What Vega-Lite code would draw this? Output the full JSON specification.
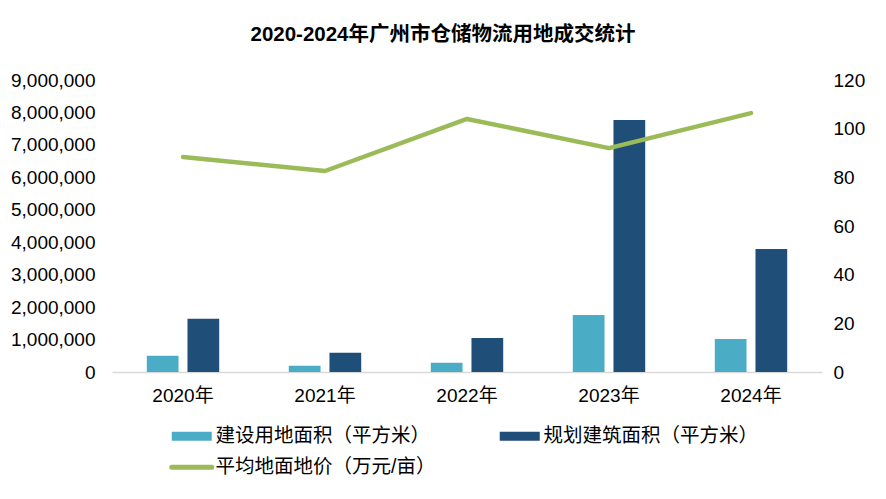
{
  "$schema": "https://vega.github.io/schema/vega-lite/v6.json",
  "width": 710,
  "height": 292,
  "autosize": "none",
  "padding": {"left": 112, "top": 80, "right": 64, "bottom": 127},
  "background": "white",
  "title": {
    "text": "2020-2024年广州市仓储物流用地成交统计",
    "fontSize": 20.5,
    "fontWeight": "bold",
    "font": "Liberation Sans, Noto Sans CJK SC",
    "color": "#000000",
    "anchor": "middle",
    "dx": -24,
    "offset": 26
  },
  "config": {
    "view": {"stroke": null},
    "font": "Liberation Sans, Noto Sans CJK SC",
    "axis": {"labelFontSize": 19, "labelColor": "#000000", "labelFont": "Liberation Sans, Noto Sans CJK SC"},
    "legend": {"labelFontSize": 19.5, "labelColor": "#000000", "labelFont": "Liberation Sans, Noto Sans CJK SC", "labelLimit": 300}
  },
  "datasets": {
    "bars": [
      {"year": "2020年", "series": "建设用地面积（平方米）", "value": 500000},
      {"year": "2020年", "series": "规划建筑面积（平方米）", "value": 1640000},
      {"year": "2021年", "series": "建设用地面积（平方米）", "value": 190000},
      {"year": "2021年", "series": "规划建筑面积（平方米）", "value": 590000},
      {"year": "2022年", "series": "建设用地面积（平方米）", "value": 285000},
      {"year": "2022年", "series": "规划建筑面积（平方米）", "value": 1050000},
      {"year": "2023年", "series": "建设用地面积（平方米）", "value": 1760000},
      {"year": "2023年", "series": "规划建筑面积（平方米）", "value": 7770000},
      {"year": "2024年", "series": "建设用地面积（平方米）", "value": 1020000},
      {"year": "2024年", "series": "规划建筑面积（平方米）", "value": 3790000}
    ],
    "line": [
      {"year": "2020年", "series": "平均地面地价（万元/亩）", "price": 88.4},
      {"year": "2021年", "series": "平均地面地价（万元/亩）", "price": 82.6},
      {"year": "2022年", "series": "平均地面地价（万元/亩）", "price": 104},
      {"year": "2023年", "series": "平均地面地价（万元/亩）", "price": 92},
      {"year": "2024年", "series": "平均地面地价（万元/亩）", "price": 106.4}
    ]
  },
  "encoding": {
    "x": {
      "field": "year",
      "type": "nominal",
      "sort": null,
      "scale": {"paddingInner": 0.49, "paddingOuter": 0.245},
      "axis": {
        "title": null,
        "labelAngle": 0,
        "ticks": false,
        "domainColor": "#D9D9D9",
        "domainWidth": 1.5,
        "labelPadding": 14
      }
    }
  },
  "layer": [
    {
      "data": {"name": "bars"},
      "mark": {"type": "bar"},
      "encoding": {
        "xOffset": {"field": "series", "type": "nominal", "sort": ["建设用地面积（平方米）", "规划建筑面积（平方米）"], "scale": {"paddingInner": 0.22}},
        "y": {
          "field": "value",
          "type": "quantitative",
          "scale": {"domain": [0, 9000000], "nice": false},
          "axis": {
            "title": null,
            "orient": "left",
            "values": [0, 1000000, 2000000, 3000000, 4000000, 5000000, 6000000, 7000000, 8000000, 9000000],
            "format": ",d",
            "domain": false,
            "ticks": false,
            "grid": false,
            "labelPadding": 17
          }
        },
        "color": {
          "field": "series",
          "type": "nominal",
          "scale": {
            "domain": ["建设用地面积（平方米）", "规划建筑面积（平方米）", "平均地面地价（万元/亩）"],
            "range": ["#4BACC6", "#1F4E79", "#9BBB59"]
          },
          "legend": {
            "title": null,
            "orient": "none",
            "legendX": 70,
            "legendY": 346,
            "direction": "horizontal",
            "columns": 2,
            "columnPadding": 63,
            "rowPadding": 10.5,
            "symbolSize": 1600,
            "labelOffset": 14,
            "labelLimit": 300,
            "padding": 0,
            "encode": {
              "symbols": {
                "update": {
                  "shape": {"signal": "datum.value === '平均地面地价（万元/亩）' ? 'stroke' : 'M-1,-0.225H1V0.225H-1Z'"},
                  "fill": {"signal": "datum.value === '平均地面地价（万元/亩）' ? 'transparent' : scale('color', datum.value)"},
                  "stroke": {"signal": "scale('color', datum.value)"},
                  "strokeWidth": {"signal": "datum.value === '平均地面地价（万元/亩）' ? 5 : 0"},
                  "strokeCap": {"value": "round"},
                  "opacity": {"value": 1},
                  "fillOpacity": {"value": 1},
                  "strokeOpacity": {"value": 1}
                }
              }
            }
          }
        }
      }
    },
    {
      "data": {"name": "line"},
      "mark": {"type": "line", "strokeWidth": 4.5, "strokeCap": "round", "strokeJoin": "round"},
      "encoding": {
        "y": {
          "field": "price",
          "type": "quantitative",
          "scale": {"domain": [0, 120], "nice": false},
          "axis": {
            "title": null,
            "orient": "right",
            "values": [0, 20, 40, 60, 80, 100, 120],
            "domain": false,
            "ticks": false,
            "grid": false,
            "labelPadding": 11
          }
        },
        "color": {
          "field": "series",
          "type": "nominal",
          "legend": {
            "title": null,
            "orient": "none",
            "legendX": 70,
            "legendY": 346,
            "direction": "horizontal",
            "columns": 2,
            "columnPadding": 63,
            "rowPadding": 10.5,
            "symbolSize": 1600,
            "labelOffset": 14,
            "labelLimit": 300,
            "padding": 0,
            "encode": {
              "symbols": {
                "update": {
                  "shape": {"signal": "datum.value === '平均地面地价（万元/亩）' ? 'stroke' : 'M-1,-0.225H1V0.225H-1Z'"},
                  "fill": {"signal": "datum.value === '平均地面地价（万元/亩）' ? 'transparent' : scale('color', datum.value)"},
                  "stroke": {"signal": "scale('color', datum.value)"},
                  "strokeWidth": {"signal": "datum.value === '平均地面地价（万元/亩）' ? 5 : 0"},
                  "strokeCap": {"value": "round"},
                  "opacity": {"value": 1},
                  "fillOpacity": {"value": 1},
                  "strokeOpacity": {"value": 1}
                }
              }
            }
          }
        }
      }
    }
  ],
  "resolve": {"scale": {"y": "independent"}}
}
